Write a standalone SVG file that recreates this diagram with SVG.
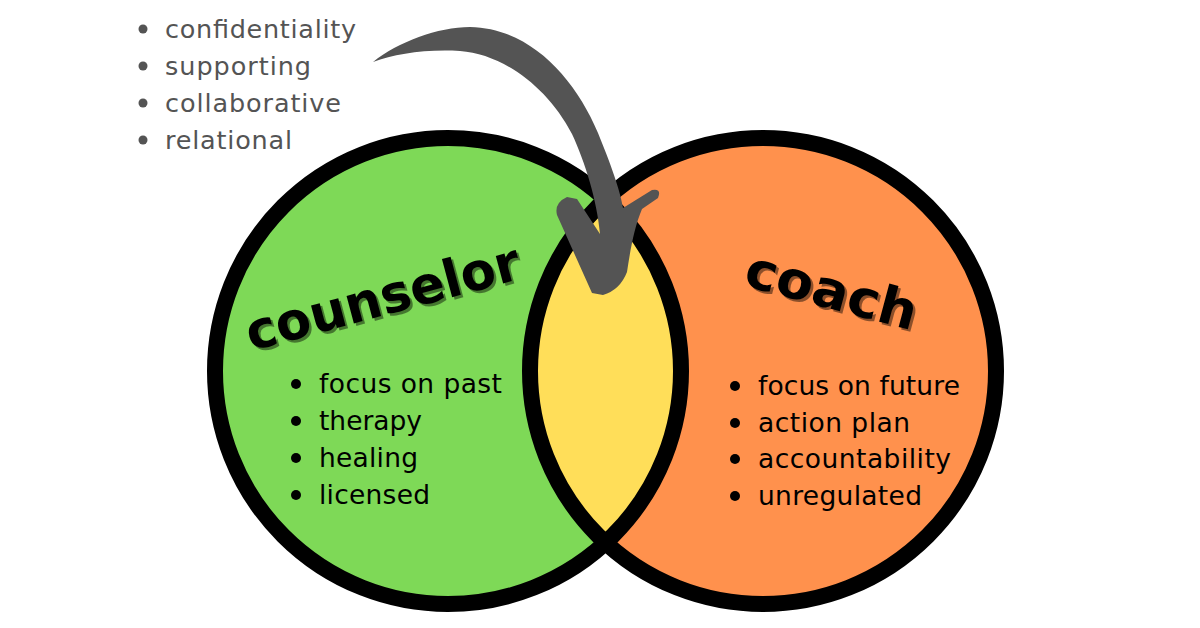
<svg xmlns="http://www.w3.org/2000/svg" width="1200" height="628" viewBox="0 0 1200 628">
  <style>
    .ring { fill: none; stroke: #000; stroke-width: 16; }
    .list { font-family: "DejaVu Sans", "Liberation Sans", sans-serif; font-size: 26.5px; fill: #000; }
    .shared { font-family: "DejaVu Sans", "Liberation Sans", sans-serif; font-size: 25.5px; fill: #545454; }
    .title { font-family: "DejaVu Sans", "Liberation Sans", sans-serif; font-size: 52px; font-weight: bold; }
    .dot { fill: #000; }
    .gdot { fill: #545454; }
  </style>
  <rect width="1200" height="628" fill="#ffffff"/>

  <g id="counselor">
    <circle cx="448" cy="371" r="233" fill="#7ED957"/>
  </g>
  <g id="coach">
    <circle cx="763" cy="371" r="233" fill="#FF914D"/>
  </g>
  <g id="overlap">
    <path d="M605.5,199.3 A233,233 0 0 1 605.5,542.7 A233,233 0 0 1 605.5,199.3 Z" fill="#FFDE59"/>
  </g>
  <g id="rings">
    <circle class="ring" cx="448" cy="371" r="233"/>
    <circle class="ring" cx="763" cy="371" r="233"/>
  </g>

  <g id="counselor-text">
    <text class="title" x="253.5" y="353.5" fill="#000" fill-opacity="0.45" transform="rotate(-15 253.5 353.5)" textLength="282" lengthAdjust="spacingAndGlyphs">counselor</text>
    <text class="title" x="251" y="351" fill="#000" transform="rotate(-15 251 351)" textLength="282" lengthAdjust="spacingAndGlyphs">counselor</text>
    <circle class="dot" cx="296" cy="384" r="5"/>
    <circle class="dot" cx="296" cy="421" r="5"/>
    <circle class="dot" cx="296" cy="458" r="5"/>
    <circle class="dot" cx="296" cy="495" r="5"/>
    <text class="list" x="319" y="393" textLength="183">focus on past</text>
    <text class="list" x="319" y="430" textLength="103">therapy</text>
    <text class="list" x="319" y="467" textLength="99">healing</text>
    <text class="list" x="319" y="504" textLength="111">licensed</text>
  </g>

  <g id="coach-text">
    <text class="title" x="744.5" y="287.5" fill="#000" fill-opacity="0.45" transform="rotate(15 744.5 287.5)" textLength="176" lengthAdjust="spacingAndGlyphs">coach</text>
    <text class="title" x="742" y="285" fill="#000" transform="rotate(15 742 285)" textLength="176" lengthAdjust="spacingAndGlyphs">coach</text>
    <circle class="dot" cx="735" cy="386" r="5"/>
    <circle class="dot" cx="735" cy="423" r="5"/>
    <circle class="dot" cx="735" cy="459" r="5"/>
    <circle class="dot" cx="735" cy="496" r="5"/>
    <text class="list" x="758" y="395" textLength="202">focus on future</text>
    <text class="list" x="758" y="432" textLength="152">action plan</text>
    <text class="list" x="758" y="468" textLength="193">accountability</text>
    <text class="list" x="758" y="505" textLength="164">unregulated</text>
  </g>

  <g id="shared-list">
    <circle class="gdot" cx="143" cy="29" r="4.5"/>
    <circle class="gdot" cx="143" cy="66" r="4.5"/>
    <circle class="gdot" cx="143" cy="103" r="4.5"/>
    <circle class="gdot" cx="143" cy="140" r="4.5"/>
    <text class="shared" x="165" y="38" textLength="191">confidentiality</text>
    <text class="shared" x="165" y="75" textLength="146">supporting</text>
    <text class="shared" x="165" y="112" textLength="176">collaborative</text>
    <text class="shared" x="165" y="149" textLength="127">relational</text>
  </g>

  <g id="connectors">
    <path id="arrow" fill="#545454" d="M373,62 C398,42 438,27 470,27 C530,28 575,78 598,133 C614,172 621,195 623,208 L652,190 Q662,188 658,198 L642,209 C634,228 630,252 627,272 Q620,290 603,295 L592,293 L557,215 Q554,203 567,197 L577,199 L600,234 C597,200 585,162 572,134 C547,86 502,54 460,51 C425,49 395,54 373,62 Z"/>
  </g>
</svg>
